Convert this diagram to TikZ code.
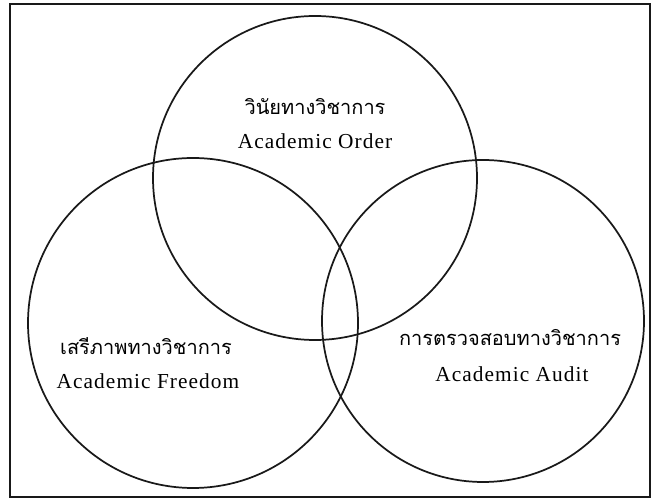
\documentclass[tikz,border=0pt]{standalone}
\usepackage{fontspec}
\setmainfont{Liberation Serif}
\newfontfamily\thaifont[Script=Thai]{Loma}
\newfontfamily\enfont[LetterSpace=5]{Liberation Serif}
\usepackage{tikz}

\tikzset{
  ring/.style={line width=1.3pt, black!90},
  thlabel/.style={font=\thaifont\fontsize{15}{17}\selectfont, inner sep=0pt},
  enlabel/.style={font=\enfont\fontsize{16}{18}\selectfont, inner sep=0pt}
}

\begin{document}
\begin{tikzpicture}[x=0.75pt,y=0.75pt]
		\useasboundingbox (0,0) rectangle (653,499);
		\draw[line width=2pt, black!90] (10,495) rectangle (650,2);
		% circle centres
		\coordinate (O) at (315,321);
		\coordinate (F) at (193,176);
		\coordinate (A) at (483,178);
		\draw[ring] (O) circle[radius=162*0.75pt];
		\draw[ring] (F) circle[radius=165*0.75pt];
		\draw[ring] (A) circle[radius=161*0.75pt];
		% labels
		\node[thlabel] (orderth) at (315,392) {วินัยทางวิชาการ};
		\node[enlabel] (orderen) at (315,358) {Academic Order};
		\node[thlabel] (freeth) at (146,153) {เสรีภาพทางวิชาการ};
		\node[enlabel] (freeen) at (148,118) {Academic Freedom};
		\node[thlabel] (auditth) at (510,161) {การตรวจสอบทางวิชาการ};
		\node[enlabel] (auditen) at (512,125) {Academic Audit};
	\end{tikzpicture}
\end{document}
